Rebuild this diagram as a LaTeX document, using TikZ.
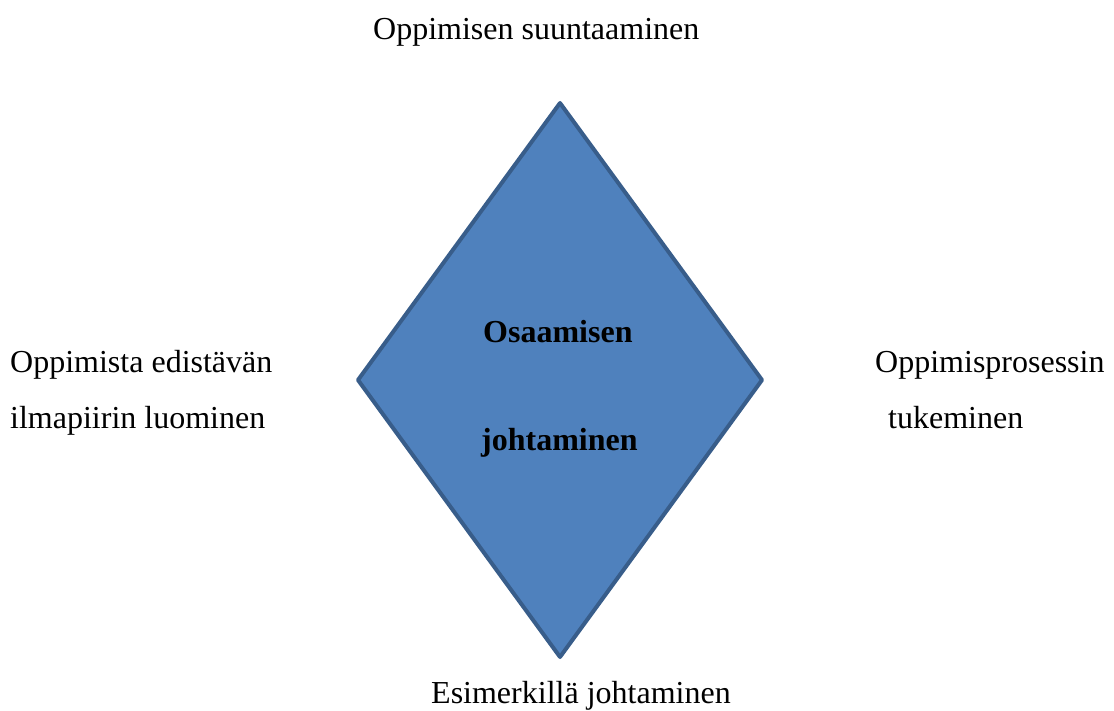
\documentclass[tikz,border=0pt]{standalone}
\usepackage{fontspec}
\setmainfont{Liberation Serif}
\definecolor{rhombfill}{HTML}{4F81BD}
\definecolor{rhombedge}{HTML}{385D8A}
\begin{document}
\begin{tikzpicture}[x=1pt,y=-1pt,
  label/.style={anchor=base west,inner sep=0pt,font=\fontsize{32}{38}\selectfont},
  centrelabel/.style={anchor=base west,inner sep=0pt,font=\fontsize{32}{38}\selectfont\bfseries},
  rhomb/.style={fill=rhombfill,draw=rhombedge,line width=4pt,line join=round}]
\useasboundingbox (0,0) rectangle (1114,711);
% the rhombus
\coordinate (top) at (560,103);
\coordinate (right) at (762,380);
\coordinate (bottom) at (560,657);
\coordinate (left) at (358,380);
\draw[rhomb] (top) -- (right) -- (bottom) -- (left) -- cycle;
% title inside
\node[centrelabel] (c1) at (483,342) {Osaamisen};
\node[centrelabel] (c2) at (481,450) {johtaminen};
% the four sides
\node[label] (north) at (373,40) {Oppimisen suuntaaminen};
\node[label] (w1) at (10,372) {Oppimista edistävän};
\node[label] (w2) at (10,428) {ilmapiirin luominen};
\node[label] (e1) at (875,372) {Oppimisprosessin};
\node[label] (e2) at (888,428) {tukeminen};
\node[label] (south) at (431,703) {Esimerkillä johtaminen};
\end{tikzpicture}
\end{document}
